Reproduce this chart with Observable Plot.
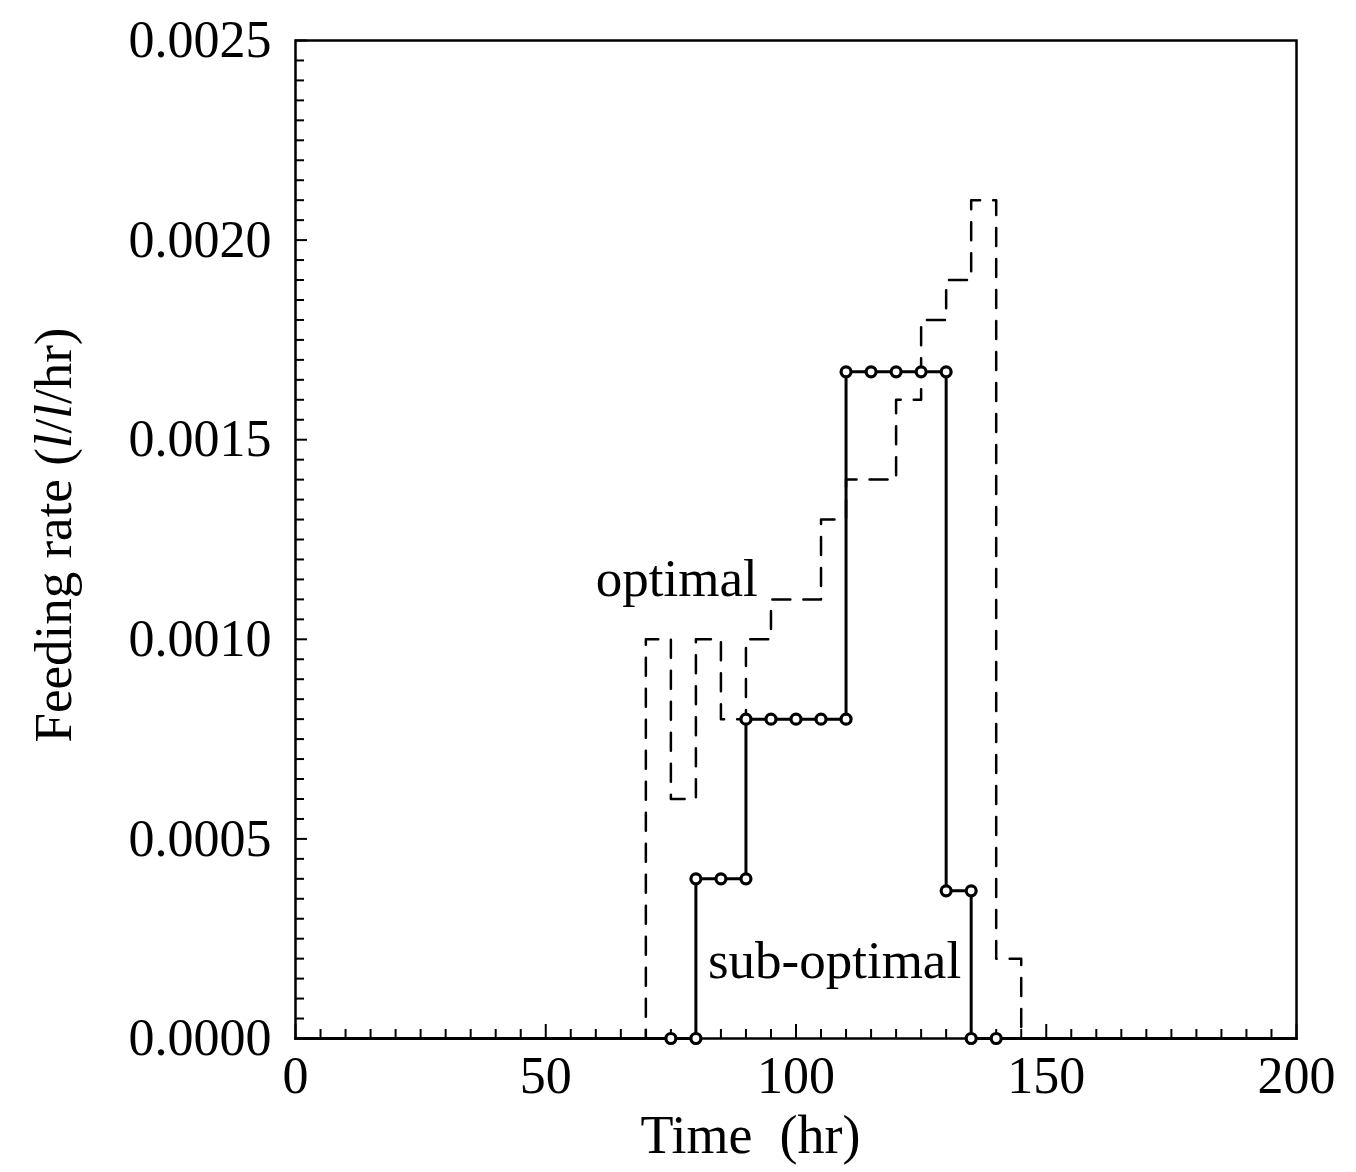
<!DOCTYPE html>
<html>
<head>
<meta charset="utf-8">
<script src="https://cdn.jsdelivr.net/npm/d3@7"></script>
<script src="https://cdn.jsdelivr.net/npm/@observablehq/plot@0.6"></script>
<style>
  html, body { margin: 0; padding: 0; background: #fff; }
  #chart svg { display: block; }
</style>
</head>
<body>
<div id="chart"></div>
<script>
// Optimal feed profile: rate held constant from each time until the next (hr, l/l/hr)
const optimalTime = [0, 70, 75, 80, 85, 90, 95, 100, 105, 110, 115, 120, 125, 130, 135, 140, 145, 200];
const optimalRate = [0, 0.0010, 0.0006, 0.0010, 0.0008, 0.0010, 0.0011, 0.0011, 0.0013, 0.0014, 0.0014, 0.0016, 0.0018, 0.0019, 0.0021, 0.0002, 0, 0];

// Sub-optimal feed profile, same convention
const subTime = [0, 75, 80, 85, 90, 95, 100, 105, 110, 115, 120, 125, 130, 135, 140, 200];
const subRate = [0, 0, 0.0004, 0.0004, 0.0008, 0.0008, 0.0008, 0.0008, 0.00167, 0.00167, 0.00167, 0.00167, 0.00037, 0, 0, 0];

// Axis ticks
const xTickLabels = [0, 50, 100, 150, 200];
const yTickLabels = [0, 0.0005, 0.0010, 0.0015, 0.0020, 0.0025];
const xMinorTicks = d3.range(5, 200, 5).filter(t => t % 50 !== 0);
const yMinorTicks = d3.range(1, 50).map(i => i * 0.00005).filter((v, i) => (i + 1) % 10 !== 0);

const optimal = optimalTime.map((t, i) => ({time: t, rate: optimalRate[i]}));
const subOptimal = subTime.map((t, i) => ({time: t, rate: subRate[i]}));

// Markers at both ends of every 5-hr control interval of the sub-optimal profile
const markerKeys = new Set();
const markers = [];
for (let i = 0; i < subTime.length - 1; i++) {
  const t0 = subTime[i], t1 = subTime[i + 1];
  if (t0 < 75 || t0 >= 140) continue;
  for (const t of [t0, t1]) {
    const key = t + ":" + subRate[i];
    if (!markerKeys.has(key)) { markerKeys.add(key); markers.push({time: t, rate: subRate[i]}); }
  }
}

const font = "'Liberation Serif', 'DejaVu Serif', serif";

const chart = Plot.plot({
  width: 1356,
  height: 1172,
  marginLeft: 295,
  marginRight: 60,
  marginTop: 40,
  marginBottom: 134,
  style: {fontFamily: font, fontSize: "52px", background: "#fff", color: "#000"},
  x: {domain: [0, 200]},
  y: {domain: [0, 0.0025]},
  marks: [
    // inward ticks along the bottom and left edges
    Plot.axisX(xMinorTicks, {tickSize: -9, tickFormat: () => "", label: null, strokeWidth: 2}),
    Plot.axisX(xTickLabels, {tickSize: -14, tickFormat: () => "", label: null, strokeWidth: 2}),
    Plot.axisY(yMinorTicks, {tickSize: -9, tickFormat: () => "", label: null, strokeWidth: 2}),
    Plot.axisY(yTickLabels, {tickSize: -12, tickFormat: () => "", label: null, strokeWidth: 2}),
    // tick labels
    Plot.axisX(xTickLabels, {tickSize: 0, tickPadding: 18, tickFormat: d => String(d), label: null, fontSize: 52}),
    Plot.axisY(yTickLabels, {tickSize: 0, tickPadding: 24, tickFormat: d => d.toFixed(4), label: null, fontSize: 52}),
    Plot.frame({stroke: "#000", strokeWidth: 2.5}),
    Plot.line(optimal, {x: "time", y: "rate", curve: "step-after", stroke: "#000", strokeWidth: 2.5, strokeDasharray: "18,13"}),
    Plot.line(subOptimal, {x: "time", y: "rate", curve: "step-after", stroke: "#000", strokeWidth: 3}),
    Plot.dot(markers, {x: "time", y: "rate", r: 5, fill: "#fff", stroke: "#000", strokeWidth: 3.2}),
    Plot.text([{time: 60, rate: 0.00115, label: "optimal"}], {x: "time", y: "rate", text: "label", textAnchor: "start", lineAnchor: "middle", fontSize: 53}),
    Plot.text([{time: 82.4, rate: 0.000193, label: "sub-optimal"}], {x: "time", y: "rate", text: "label", textAnchor: "start", lineAnchor: "middle", fontSize: 53, fill: "#000"})
  ]
});

// Axis titles, with the litre symbols set in italic
const svg = d3.select(chart);
const xs = chart.scale("x"), ys = chart.scale("y");

svg.append("text")
  .attr("x", xs.apply(91))
  .attr("y", ys.range[0] + 115)
  .attr("text-anchor", "middle")
  .attr("font-family", font)
  .attr("font-size", 54)
  .style("white-space", "pre")
  .text("Time  (hr)");

const yTitle = svg.append("text")
  .attr("transform", `translate(${xs.range[0] - 224},${ys.apply(0.00126)}) rotate(-90)`)
  .attr("text-anchor", "middle")
  .attr("font-family", font)
  .attr("font-size", 53)
  .style("white-space", "pre");
yTitle.append("tspan").text("Feeding rate (");
yTitle.append("tspan").attr("font-style", "italic").text("l");
yTitle.append("tspan").text("/");
yTitle.append("tspan").attr("font-style", "italic").text("l");
yTitle.append("tspan").text("/hr)");

document.getElementById("chart").appendChild(chart);
</script>
</body>
</html>
